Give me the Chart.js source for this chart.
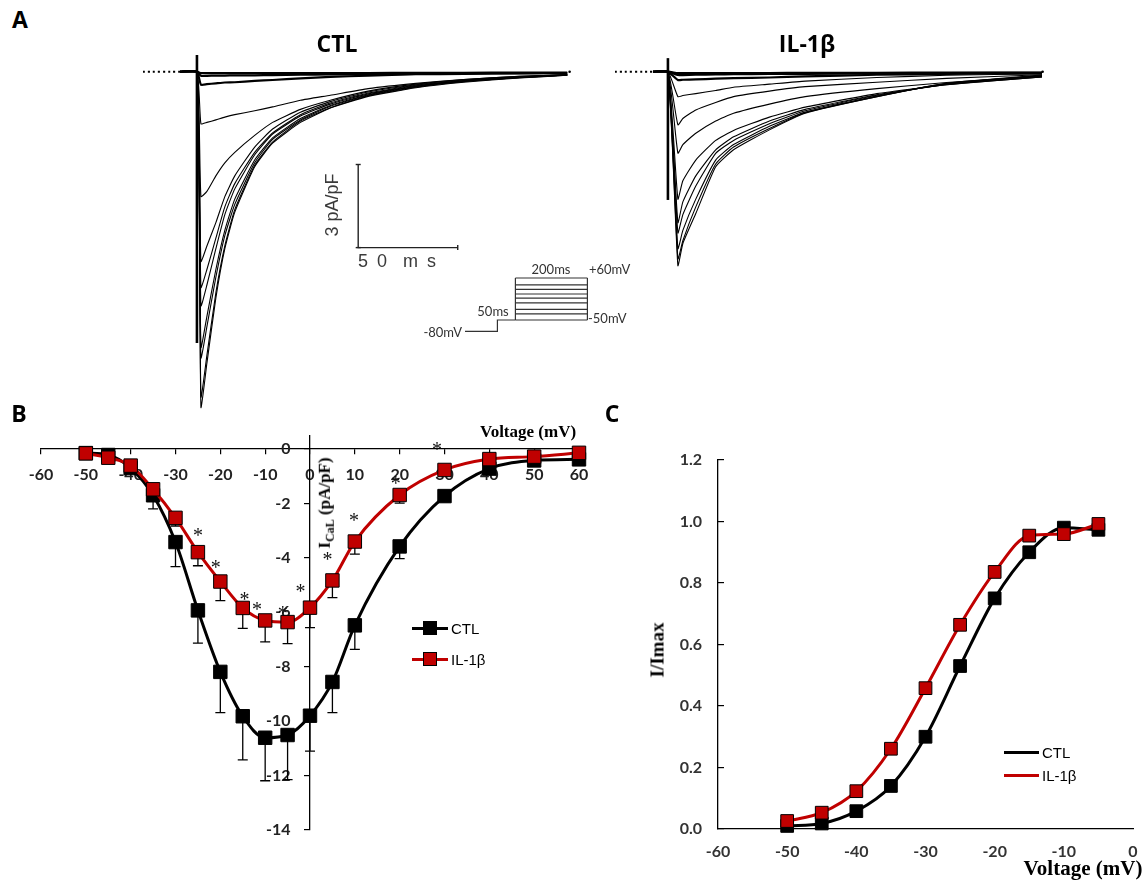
<!DOCTYPE html>
<html>
<head>
<meta charset="utf-8">
<script src="https://cdn.jsdelivr.net/npm/chart.js"></script>
<style>
  html, body { margin: 0; padding: 0; background: #fff; }
  #fig { position: relative; width: 1148px; height: 882px; overflow: hidden; background: #fff; }
  canvas { position: absolute; }
  .t { position: absolute; white-space: pre; line-height: 1; color: #000; }
  .leg { position: absolute; }
</style>
</head>
<body>
<div id="fig">
  <canvas id="ctlTraces" width="429" height="382" style="left:143px;top:44px"></canvas>
  <canvas id="ilTraces" width="430" height="382" style="left:615px;top:44px"></canvas>
  <canvas id="protocol" width="140" height="70" style="left:455px;top:270px"></canvas>
  <canvas id="ivCurve" width="620" height="470" style="left:0px;top:400px"></canvas>
  <canvas id="activation" width="508" height="442" style="left:640px;top:440px"></canvas>
</div>
<script>
// ---------------- Panel A: representative L-type Ca2+ current sweeps ----------------
// time in ms (0 = start of the test pulse), current density in pA/pF
const ctlTime = [-8.5, 0, 2, 5, 9.5, 14, 19, 29, 38, 52, 67, 86, 110, 134, 162, 186];
const ctlSweeps = [
  [0, 0, -0.05, -0.05, -0.05, -0.05, -0.05, -0.05, -0.05, -0.05, -0.05, -0.05, -0.04, -0.04, -0.03, -0.03],
  [0, 0, -0.15, -0.15, -0.14, -0.14, -0.13, -0.13, -0.12, -0.11, -0.10, -0.09, -0.08, -0.07, -0.06, -0.05],
  [0, 0, -0.47, -0.45, -0.42, -0.39, -0.38, -0.33, -0.30, -0.24, -0.19, -0.14, -0.09, -0.08, -0.05, -0.05],
  [0, 0, -1.88, -1.83, -1.74, -1.64, -1.55, -1.41, -1.27, -1.03, -0.85, -0.61, -0.42, -0.28, -0.17, -0.11],
  [0, 0, -4.51, -4.32, -3.76, -3.29, -2.91, -2.30, -1.83, -1.36, -1.03, -0.70, -0.45, -0.28, -0.17, -0.11],
  [0, 0, -6.85, -6.29, -5.45, -4.51, -3.76, -2.72, -2.07, -1.46, -1.08, -0.73, -0.47, -0.30, -0.19, -0.11],
  [0, 0, -7.79, -7.14, -6.01, -4.88, -4.04, -2.91, -2.21, -1.55, -1.13, -0.77, -0.49, -0.32, -0.19, -0.11],
  [0, 0, -8.45, -7.70, -6.39, -5.16, -4.23, -3.00, -2.25, -1.60, -1.17, -0.80, -0.51, -0.33, -0.20, -0.12],
  [0, 0, -9.95, -8.83, -7.14, -5.73, -4.60, -3.19, -2.39, -1.69, -1.22, -0.83, -0.53, -0.34, -0.21, -0.12],
  [0, 0, -10.33, -9.20, -7.42, -5.92, -4.79, -3.29, -2.44, -1.74, -1.25, -0.85, -0.54, -0.35, -0.21, -0.12],
  [0, 0, -11.74, -10.24, -7.98, -6.29, -4.98, -3.38, -2.54, -1.78, -1.30, -0.87, -0.56, -0.36, -0.22, -0.13],
  [0, 0, -12.11, -10.52, -8.17, -6.39, -5.07, -3.43, -2.58, -1.83, -1.31, -0.89, -0.58, -0.38, -0.23, -0.13]
];
const ctlArtifact = [0.6, -9.79];          // capacitive transient at pulse onset

const ilTime = [-7.5, 0, 5, 7.5, 14, 24, 33, 51, 69, 105, 140, 188];
const ilSweeps = [
  [0, 0, -0.05, -0.05, -0.05, -0.05, -0.05, -0.05, -0.04, -0.04, -0.03, -0.03],
  [0, 0, -0.12, -0.12, -0.11, -0.10, -0.09, -0.08, -0.08, -0.06, -0.05, -0.04],
  [0, 0, -0.30, -0.29, -0.28, -0.25, -0.23, -0.21, -0.17, -0.11, -0.08, -0.05],
  [0, 0, -0.90, -0.86, -0.79, -0.68, -0.56, -0.45, -0.34, -0.21, -0.13, -0.08],
  [0, 0, -1.92, -1.69, -1.38, -1.11, -0.90, -0.70, -0.54, -0.38, -0.24, -0.11],
  [0, 0, -2.94, -2.63, -2.22, -1.78, -1.50, -1.17, -0.90, -0.61, -0.39, -0.17],
  [0, 0, -4.60, -3.94, -3.19, -2.48, -2.12, -1.64, -1.28, -0.79, -0.47, -0.19],
  [0, 0, -5.45, -4.70, -3.76, -2.82, -2.35, -1.78, -1.36, -0.83, -0.47, -0.19],
  [0, 0, -5.82, -5.16, -4.13, -2.95, -2.48, -1.88, -1.41, -0.85, -0.45, -0.17],
  [0, 0, -6.39, -5.73, -4.60, -3.19, -2.63, -1.97, -1.46, -0.88, -0.44, -0.15],
  [0, 0, -6.76, -6.10, -4.88, -3.33, -2.72, -2.05, -1.48, -0.90, -0.43, -0.14],
  [0, 0, -7.00, -6.20, -5.12, -3.43, -2.82, -2.10, -1.50, -0.90, -0.42, -0.12]
];
const ilArtifact = [0.49, -4.63];

// calibration bar: 50 ms x 3 pA/pF
const barMs = 50;
const barPApF = 3;

// voltage-clamp protocol (mV, ms)
const holdMv = -80;
const prepulseMv = -50;
const prepulseMs = 50;
const testMs = 200;
const holdMs = 90;
const testLevelsMv = [-50, -34, -22, -5, 7, 18, 30, 42, 60];

// ---------------- Panel B: I-V relationship (mean, SEM) ----------------
const voltB = [-50, -45, -40, -35, -30, -25, -20, -15, -10, -5, 0, 5, 10, 20, 30, 40, 50, 60];
const ctlCurrent = [-0.15, -0.22, -0.7, -1.7, -3.42, -5.93, -8.19, -9.82, -10.61, -10.51, -9.8, -8.56, -6.48, -3.58, -1.73, -0.72, -0.42, -0.38];
const ctlSem = [0.1, 0.1, 0.15, 0.5, 0.9, 1.2, 1.5, 1.6, 1.58, 1.64, 1.3, 1.13, 0.88, 0.45, 0.2, 0.1, 0.05, 0.05];
const ilCurrent = [-0.16, -0.32, -0.61, -1.48, -2.53, -3.79, -4.87, -5.84, -6.3, -6.36, -5.83, -4.83, -3.4, -1.69, -0.77, -0.37, -0.28, -0.14];
const ilSem = [0.05, 0.05, 0.1, 0.3, 0.3, 0.5, 0.7, 0.75, 0.79, 0.79, 0.73, 0.63, 0.46, 0.3, 0.15, 0.05, 0.05, 0.05];
const currentTicksB = [-14, -12, -10, -8, -6, -4, -2, 0];
// significance marks (mV, pA/pF)
const starVolt = [-25, -21, -14.6, -11.8, -6.1, -2.1, 3.9, 9.8, 19.1, 28.3];
const starCurr = [-3.0, -4.19, -5.35, -5.72, -5.87, -5.07, -3.91, -2.47, -1.1, 0.15];

// ---------------- Panel C: steady-state activation ----------------
const voltC = [-50, -45, -40, -35, -30, -25, -20, -15, -10, -5];
const ctlNorm = [0.01, 0.018, 0.058, 0.14, 0.30, 0.53, 0.75, 0.90, 0.98, 0.973];
const ilNorm = [0.026, 0.053, 0.123, 0.261, 0.458, 0.664, 0.836, 0.954, 0.959, 0.992];

const RED = '#c00000';
const BLACK = '#000000';

// ---------------------------------------------------------------
const xy = (xs, ys) => xs.map((x, i) => ({ x, y: ys[i] }));
const fig = document.getElementById('fig');

function addText(str, x, y, style, anchor, rotate) {
  const d = document.createElement('div');
  d.className = 't';
  d.textContent = str;
  Object.assign(d.style, style || {});
  d.style.left = x + 'px';
  d.style.top = y + 'px';
  const tx = anchor === 'left' ? '0' : anchor === 'right' ? '-100%' : '-50%';
  d.style.transform = `translate(${tx},-50%)` + (rotate ? ` rotate(${rotate})` : '');
  fig.appendChild(d);
  return d;
}

const quiet = {
  responsive: false,
  animation: false,
  devicePixelRatio: 1,
  events: [],
  plugins: { legend: { display: false }, tooltip: { enabled: false } }
};

function traceChart(id, time, sweeps, artifact, xmin, xmax, extra) {
  const datasets = [];
  // dotted baseline before the recording and closing dot
  datasets.push({ data: [{ x: xmin, y: 0 }, { x: time[0], y: 0 }], borderColor: BLACK, borderWidth: 2, borderDash: [2, 3], pointRadius: 0 });
  datasets.push({ data: [{ x: xmax - 1.2, y: 0 }], showLine: false, pointRadius: 1.3, pointBackgroundColor: BLACK, pointBorderWidth: 0 });
  sweeps.forEach((s, i) => {
    datasets.push({ data: xy(time, s), borderColor: BLACK, borderWidth: i < 3 ? 2.2 : 1.1, pointRadius: 0 });
  });
  datasets.push({ data: [{ x: 0, y: artifact[0] }, { x: 0, y: artifact[1] }], borderColor: BLACK, borderWidth: 2.6, pointRadius: 0 });
  (extra || []).forEach(d => datasets.push(d));
  return new Chart(document.getElementById(id), {
    type: 'line',
    data: { datasets },
    options: Object.assign({}, quiet, {
      layout: { padding: 0, autoPadding: false },
      elements: { line: { tension: 0.15 } },
      datasets: { line: { clip: false } },
      scales: {
        x: { type: 'linear', display: false, min: xmin, max: xmax },
        y: { type: 'linear', display: false, min: -12.79, max: 1 }
      }
    })
  });
}

// scale bar drawn in the control panel's own units
const barT0 = 81, barI0 = -6.35;
traceChart('ctlTraces', ctlTime, ctlSweeps, ctlArtifact, -27.1, 188.4, [{
  data: [{ x: barT0, y: barI0 + barPApF }, { x: barT0, y: barI0 }, { x: barT0 + barMs, y: barI0 }],
  borderColor: '#222', borderWidth: 1.4, tension: 0,
  pointStyle: 'line', pointRadius: 2.5, pointBorderColor: '#222', pointBorderWidth: 1.4,
  pointRotation: [0, 0, 90]
}]);
traceChart('ilTraces', ilTime, ilSweeps, ilArtifact, -26.6, 189.5);

// protocol diagram
(function () {
  const t0 = -(holdMs + prepulseMs);
  const ds = [];
  ds.push({ data: [{ x: t0, y: holdMv }, { x: -prepulseMs, y: holdMv }, { x: -prepulseMs, y: prepulseMv }, { x: 0, y: prepulseMv }] });
  testLevelsMv.forEach(v => ds.push({ data: [{ x: 0, y: v }, { x: testMs, y: v }] }));
  const top = Math.max(...testLevelsMv), bottom = Math.min(...testLevelsMv);
  ds.push({ data: [{ x: 0, y: bottom }, { x: 0, y: top }] });
  ds.push({ data: [{ x: testMs, y: bottom }, { x: testMs, y: top }] });
  ds.forEach(d => Object.assign(d, { borderColor: '#333', borderWidth: 1.2, pointRadius: 0, tension: 0 }));
  new Chart(document.getElementById('protocol'), {
    type: 'line',
    data: { datasets: ds },
    options: Object.assign({}, quiet, {
      layout: { padding: 0, autoPadding: false },
      datasets: { line: { clip: false } },
      scales: {
        x: { type: 'linear', display: false, min: -167.8, max: 221.1 },
        y: { type: 'linear', display: false, min: -102.4, max: 80.9 }
      }
    })
  });
})();

// ---------------- Panel B chart ----------------
const tickFont = { family: 'Lato, "Liberation Sans", sans-serif', weight: 'bold', size: 16 };
const noPad = s => { s.paddingLeft = s.paddingRight = s.paddingTop = s.paddingBottom = 0; };

const errorBars = {
  id: 'errorBars',
  beforeDatasetsDraw(chart) {
    const { ctx, scales: { x, y } } = chart;
    ctx.save();
    ctx.strokeStyle = '#000';
    ctx.lineWidth = 1.3;
    [[ctlCurrent, ctlSem], [ilCurrent, ilSem]].forEach(([m, e]) => {
      voltB.forEach((v, i) => {
        const px = x.getPixelForValue(v);
        const y0 = y.getPixelForValue(m[i]);
        const y1 = y.getPixelForValue(m[i] - e[i]);
        ctx.beginPath();
        ctx.moveTo(px, y0); ctx.lineTo(px, y1);
        ctx.moveTo(px - 5, y1); ctx.lineTo(px + 5, y1);
        ctx.stroke();
      });
    });
    ctx.restore();
  }
};

const starMarks = {
  id: 'starMarks',
  afterDatasetsDraw(chart) {
    const { ctx, scales: { x, y } } = chart;
    ctx.save();
    ctx.fillStyle = '#111';
    ctx.font = '20px "Liberation Serif", "Times New Roman", serif';
    ctx.textAlign = 'center';
    ctx.textBaseline = 'alphabetic';
    starVolt.forEach((v, i) => {
      ctx.fillText('*', x.getPixelForValue(v), y.getPixelForValue(starCurr[i]) + 11);
    });
    ctx.restore();
  }
};

new Chart(document.getElementById('ivCurve'), {
  type: 'line',
  data: {
    datasets: [
      { label: 'IL-1β', data: xy(voltB, ilCurrent), borderColor: RED, borderWidth: 3,
        pointStyle: 'rect', pointRadius: 9.5, pointBackgroundColor: RED, pointBorderColor: '#000', pointBorderWidth: 1,
        cubicInterpolationMode: 'monotone' },
      { label: 'CTL', data: xy(voltB, ctlCurrent), borderColor: BLACK, borderWidth: 3,
        pointStyle: 'rect', pointRadius: 9.5, pointBackgroundColor: BLACK, pointBorderColor: '#000', pointBorderWidth: 1,
        cubicInterpolationMode: 'monotone' }
    ]
  },
  options: Object.assign({}, quiet, {
    layout: { padding: { left: 41, right: 41, top: 35.4, bottom: 40 } },
    datasets: { line: { clip: false } },
    scales: {
      x: {
        type: 'linear', min: -60, max: 60, position: { y: 0 },
        afterFit: s => { s.height = 0; noPad(s); },
        grid: { drawOnChartArea: false, tickLength: 5, color: '#000', lineWidth: 1.2 },
        border: { color: '#000', width: 1.3 },
        ticks: { stepSize: 10, autoSkip: false, maxRotation: 0, padding: 11, color: '#222', font: tickFont }
      },
      y: {
        type: 'linear', min: -14, max: 0.5, position: { x: 0 },
        afterFit: s => { s.width = 0; noPad(s); },
        afterBuildTicks: s => { s.ticks = currentTicksB.map(value => ({ value })); },
        grid: { drawOnChartArea: false, tickLength: 5, color: '#000', lineWidth: 1.2 },
        border: { color: '#000', width: 1.3 },
        ticks: { padding: 0, autoSkip: false, color: '#222', font: tickFont, callback: v => v + '     ' }
      }
    }
  }),
  plugins: [errorBars, starMarks]
});

// ---------------- Panel C chart ----------------
new Chart(document.getElementById('activation'), {
  type: 'line',
  data: {
    datasets: [
      { label: 'IL-1β', data: xy(voltC, ilNorm), borderColor: RED, borderWidth: 3,
        pointStyle: 'rect', pointRadius: 9, pointBackgroundColor: RED, pointBorderColor: '#000', pointBorderWidth: 1,
        cubicInterpolationMode: 'monotone' },
      { label: 'CTL', data: xy(voltC, ctlNorm), borderColor: BLACK, borderWidth: 3,
        pointStyle: 'rect', pointRadius: 9, pointBackgroundColor: BLACK, pointBorderColor: '#000', pointBorderWidth: 1,
        cubicInterpolationMode: 'monotone' }
    ]
  },
  options: Object.assign({}, quiet, {
    layout: { padding: { left: 18, right: 15, top: 20, bottom: 13 } },
    datasets: { line: { clip: false } },
    scales: {
      x: {
        type: 'linear', min: -60, max: 0,
        afterFit: s => { s.height = 40; noPad(s); },
        grid: { drawOnChartArea: false, drawTicks: false, color: '#000' },
        border: { color: '#000', width: 1.3 },
        ticks: { stepSize: 10, autoSkip: false, maxRotation: 0, padding: 13.4, color: '#333', font: tickFont }
      },
      y: {
        type: 'linear', min: 0, max: 1.2,
        afterFit: s => { s.width = 60; noPad(s); },
        grid: { drawOnChartArea: false, tickLength: -6, color: '#000', lineWidth: 1.2 },
        border: { color: '#000', width: 1.3 },
        ticks: { stepSize: 0.2, padding: 22, color: '#333', font: tickFont, callback: v => v.toFixed(1) }
      }
    }
  })
});

// ---------------- text ----------------
const letter = { fontFamily: '"Open Sans", Lato, sans-serif', fontWeight: 'bold', fontSize: '23px' };
addText('A', 20, 19, letter);
addText('B', 19, 413, letter);
addText('C', 612, 413, letter);

const title = { fontFamily: '"Open Sans", Lato, sans-serif', fontWeight: 'bold', fontSize: '23px' };
addText('CTL', 337, 43, title);
addText('IL-1β', 807, 43, title);

const scaleTxt = { fontFamily: '"Liberation Sans", Arial, sans-serif', fontSize: '18px', color: '#3a3a3a' };
addText('3 pA/pF', 332, 205, scaleTxt, 'center', '-90deg');
addText('5 0  m s', 398, 261, Object.assign({ letterSpacing: '2px' }, scaleTxt));

const protoTxt = { fontFamily: 'Lato, "Liberation Sans", sans-serif', fontSize: '13px', color: '#333' };
addText('-80mV', 462, 332, protoTxt, 'right');
addText('50ms', 493, 311, protoTxt);
addText('200ms', 551, 269, protoTxt);
addText('+60mV', 589, 269, protoTxt, 'left');
addText('-50mV', 588, 318, protoTxt, 'left');

const serifBold = { fontFamily: '"Liberation Serif", "Times New Roman", serif', fontWeight: 'bold' };
addText('Voltage (mV)', 528, 431, Object.assign({ fontSize: '17px' }, serifBold));
addText('Voltage (mV)', 1083, 868, Object.assign({ fontSize: '21px' }, serifBold));
addText('I/Imax', 657, 650, Object.assign({ fontSize: '19px' }, serifBold), 'center', '-90deg');
const yb = addText('', 326, 503, Object.assign({ fontSize: '17px' }, serifBold), 'center', '-90deg');
yb.innerHTML = 'I<sub style="font-size:12px">CaL</sub> (pA/pF)';

// legends
function legend(x, y, color, label, marker, font) {
  const line = document.createElement('div');
  line.className = 'leg';
  Object.assign(line.style, { left: x + 'px', top: (y - 1.5) + 'px', width: (marker ? 36 : 35) + 'px', height: '3px', background: color });
  fig.appendChild(line);
  if (marker) {
    const sq = document.createElement('div');
    sq.className = 'leg';
    Object.assign(sq.style, { left: (x + 11) + 'px', top: (y - 7) + 'px', width: '12px', height: '12px', background: color, border: '1px solid #000' });
    fig.appendChild(sq);
  }
  addText(label, x + (marker ? 39 : 38), y, { fontFamily: '"Liberation Sans", Arial, sans-serif', fontSize: font, color: '#000' }, 'left');
}
legend(412, 628, BLACK, 'CTL', true, '15px');
legend(412, 659, RED, 'IL-1β', true, '15px');
legend(1004, 752, BLACK, 'CTL', false, '15px');
legend(1004, 775, RED, 'IL-1β', false, '15px');
</script>
</body>
</html>
